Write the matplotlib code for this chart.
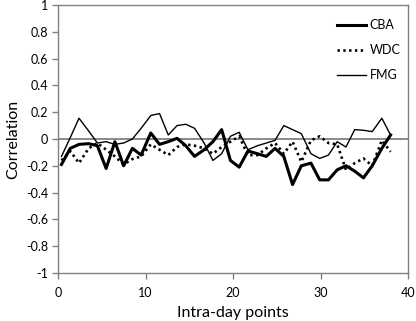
import matplotlib
matplotlib.use("Agg")
import matplotlib.pyplot as plt

# intra-day point positions
points = [0.4, 1.4, 2.4, 3.5, 4.5, 5.5, 6.5, 7.5, 8.5, 9.5,
          10.6, 11.6, 12.6, 13.6, 14.6, 15.6, 16.7, 17.7, 18.7, 19.7,
          20.7, 21.7, 22.8, 23.8, 24.8, 25.8, 26.8, 27.8, 28.9, 29.9,
          30.9, 31.9, 32.9, 33.9, 34.9, 35.9, 37.0, 38.0]

cba = [-0.19, -0.07, -0.04, -0.035, -0.05, -0.22, -0.02, -0.20, -0.07, -0.12,
       0.045, -0.04, -0.02, 0.005, -0.05, -0.13, -0.08, -0.02, 0.07, -0.16,
       -0.21, -0.09, -0.11, -0.13, -0.07, -0.13, -0.34, -0.20, -0.18, -0.305,
       -0.305, -0.23, -0.20, -0.24, -0.29, -0.20, -0.07, 0.03]

wdc = [-0.16, -0.09, -0.18, -0.07, -0.03, -0.08, -0.13, -0.19, -0.15, -0.13,
       -0.04, -0.08, -0.12, -0.06, -0.04, -0.05, -0.07, -0.11, -0.06, -0.02,
       0.02, -0.12, -0.12, -0.07, -0.03, -0.11, -0.02, -0.17, -0.01, 0.02,
       -0.03, -0.04, -0.23, -0.18, -0.145, -0.20, -0.01, -0.095]

fmg = [-0.13, 0.01, 0.155, 0.06, -0.03, -0.02, -0.04, -0.03, 0.0, 0.08,
       0.175, 0.19, 0.03, 0.10, 0.11, 0.08, -0.03, -0.16, -0.11, 0.02,
       0.05, -0.08, -0.05, -0.03, -0.01, 0.10, 0.07, 0.04, -0.11, -0.145,
       -0.12, -0.02, -0.06, 0.07, 0.065, 0.055, 0.155, 0.03]

x_ticks = [0, 10, 20, 30, 40]
y_ticks = [-1, -0.8, -0.6, -0.4, -0.2, 0, 0.2, 0.4, 0.6, 0.8, 1]
y_labels = ['-1', '-0.8', '-0.6', '-0.4', '-0.2', '0', '0.2', '0.4', '0.6', '0.8', '1']

plt.rcParams['font.family'] = ['Lato', 'DejaVu Sans']

fig = plt.figure(figsize=(4.16, 3.21), dpi=100)
ax = fig.add_axes([0.1394, 0.1495, 0.8416, 0.835])

gray = '#808080'
ax.axhline(0, color=gray, linewidth=1.3, zorder=1)

ax.plot(points, cba, color='black', linewidth=2.2, label='CBA', zorder=3)
ax.plot(points, wdc, color='black', linewidth=1.9, linestyle=(0, (0.9, 1.3)),
        label='WDC', zorder=3)
ax.plot(points, fmg, color='black', linewidth=1.0, label='FMG', zorder=3)

ax.set_xlim(0, 40)
ax.set_ylim(-1, 1)
ax.set_xticks(x_ticks)
ax.set_yticks(y_ticks)
ax.set_yticklabels(y_labels)
ax.tick_params(direction='out', length=4, width=1, color=gray, labelsize=9, pad=3)
ax.tick_params(axis='x', pad=6)

for s in ax.spines.values():
    s.set_color(gray)
    s.set_linewidth(1.0)

ax.set_xlabel('Intra-day points', fontsize=11.5, labelpad=5)
ax.set_ylabel('Correlation', fontsize=11.5, labelpad=4)

ax.legend(loc='upper left', bbox_to_anchor=(0.765, 0.99), frameon=False,
          fontsize=9, handlelength=2.3, handletextpad=0.3, labelspacing=1.05)

fig.savefig('out.png', dpi=100)
